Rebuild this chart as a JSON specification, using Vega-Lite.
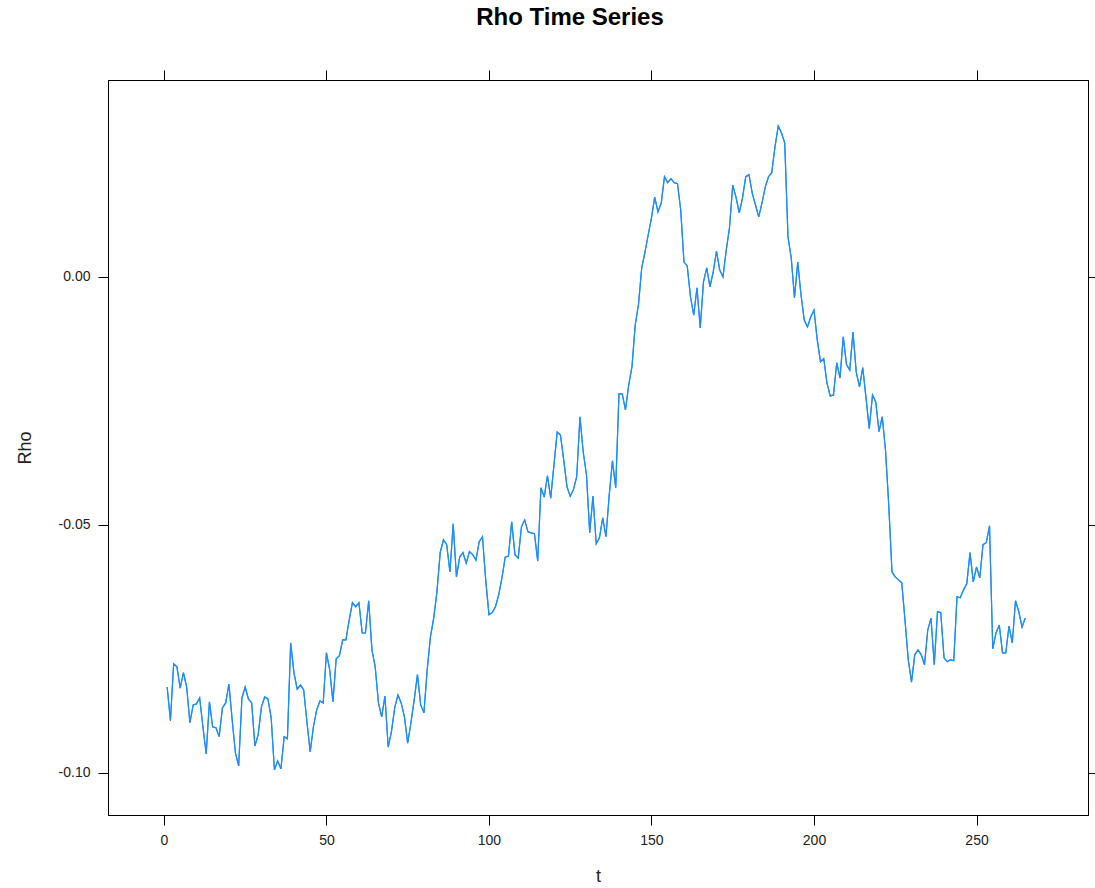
{
  "$schema": "https://vega.github.io/schema/vega-lite/v6.json",
  "width": 980,
  "height": 735,
  "autosize": {"type": "none"},
  "padding": {"left": 108, "top": 80, "right": 7, "bottom": 73},
  "background": "white",
  "config": {
    "font": "Liberation Sans",
    "view": {"stroke": "#000", "strokeWidth": 1},
    "axis": {
      "domainColor": "#000", "tickColor": "#000", "tickSize": 10, "tickWidth": 1,
      "labelFont": "Liberation Sans", "labelFontSize": 14, "labelColor": "#222",
      "titleFont": "Liberation Sans", "titleFontSize": 18, "titleFontWeight": "normal", "titleColor": "#222",
      "grid": false, "labelPadding": 8
    }
  },
  "title": {"text": "Rho Time Series", "fontSize": 24, "fontWeight": "bold", "font": "Liberation Sans", "color": "#000", "offset": 40, "dx": -28},
  "data": {"values": [
    {"t":1,"rho":-0.0827},{"t":2,"rho":-0.0895},{"t":3,"rho":-0.0780},{"t":4,"rho":-0.0786},{"t":5,"rho":-0.0829},
    {"t":6,"rho":-0.0798},{"t":7,"rho":-0.0827},{"t":8,"rho":-0.0899},{"t":9,"rho":-0.0863},{"t":10,"rho":-0.0861},
    {"t":11,"rho":-0.0849},{"t":12,"rho":-0.0907},{"t":13,"rho":-0.0962},{"t":14,"rho":-0.0857},{"t":15,"rho":-0.0907},
    {"t":16,"rho":-0.0909},{"t":17,"rho":-0.0927},{"t":18,"rho":-0.0869},{"t":19,"rho":-0.0859},{"t":20,"rho":-0.0821},
    {"t":21,"rho":-0.0893},{"t":22,"rho":-0.0960},{"t":23,"rho":-0.0986},{"t":24,"rho":-0.0849},{"t":25,"rho":-0.0827},
    {"t":26,"rho":-0.0851},{"t":27,"rho":-0.0859},{"t":28,"rho":-0.0946},{"t":29,"rho":-0.0923},{"t":30,"rho":-0.0867},
    {"t":31,"rho":-0.0847},{"t":32,"rho":-0.0851},{"t":33,"rho":-0.0889},{"t":34,"rho":-0.0994},{"t":35,"rho":-0.0976},
    {"t":36,"rho":-0.0992},{"t":37,"rho":-0.0927},{"t":38,"rho":-0.0931},{"t":39,"rho":-0.0738},{"t":40,"rho":-0.0798},
    {"t":41,"rho":-0.0831},{"t":42,"rho":-0.0823},{"t":43,"rho":-0.0833},{"t":44,"rho":-0.0897},{"t":45,"rho":-0.0958},
    {"t":46,"rho":-0.0907},{"t":47,"rho":-0.0873},{"t":48,"rho":-0.0855},{"t":49,"rho":-0.0859},{"t":50,"rho":-0.0758},
    {"t":51,"rho":-0.0792},{"t":52,"rho":-0.0857},{"t":53,"rho":-0.0770},{"t":54,"rho":-0.0764},{"t":55,"rho":-0.0732},
    {"t":56,"rho":-0.0732},{"t":57,"rho":-0.0692},{"t":58,"rho":-0.0657},{"t":59,"rho":-0.0665},{"t":60,"rho":-0.0657},
    {"t":61,"rho":-0.0718},{"t":62,"rho":-0.0718},{"t":63,"rho":-0.0653},{"t":64,"rho":-0.0752},{"t":65,"rho":-0.0786},
    {"t":66,"rho":-0.0859},{"t":67,"rho":-0.0887},{"t":68,"rho":-0.0845},{"t":69,"rho":-0.0948},{"t":70,"rho":-0.0917},
    {"t":71,"rho":-0.0869},{"t":72,"rho":-0.0843},{"t":73,"rho":-0.0859},{"t":74,"rho":-0.0887},{"t":75,"rho":-0.0940},
    {"t":76,"rho":-0.0899},{"t":77,"rho":-0.0853},{"t":78,"rho":-0.0802},{"t":79,"rho":-0.0863},{"t":80,"rho":-0.0879},
    {"t":81,"rho":-0.0792},{"t":82,"rho":-0.0726},{"t":83,"rho":-0.0688},{"t":84,"rho":-0.0635},{"t":85,"rho":-0.0556},
    {"t":86,"rho":-0.0530},{"t":87,"rho":-0.0540},{"t":88,"rho":-0.0595},{"t":89,"rho":-0.0498},{"t":90,"rho":-0.0605},
    {"t":91,"rho":-0.0565},{"t":92,"rho":-0.0556},{"t":93,"rho":-0.0577},{"t":94,"rho":-0.0554},{"t":95,"rho":-0.0560},
    {"t":96,"rho":-0.0571},{"t":97,"rho":-0.0534},{"t":98,"rho":-0.0524},{"t":99,"rho":-0.0611},{"t":100,"rho":-0.0681},
    {"t":101,"rho":-0.0677},{"t":102,"rho":-0.0665},{"t":103,"rho":-0.0641},{"t":104,"rho":-0.0607},{"t":105,"rho":-0.0565},
    {"t":106,"rho":-0.0563},{"t":107,"rho":-0.0494},{"t":108,"rho":-0.0560},{"t":109,"rho":-0.0567},{"t":110,"rho":-0.0504},
    {"t":111,"rho":-0.0490},{"t":112,"rho":-0.0514},{"t":113,"rho":-0.0516},{"t":114,"rho":-0.0518},{"t":115,"rho":-0.0573},
    {"t":116,"rho":-0.0425},{"t":117,"rho":-0.0444},{"t":118,"rho":-0.0401},{"t":119,"rho":-0.0446},{"t":120,"rho":-0.0379},
    {"t":121,"rho":-0.0313},{"t":122,"rho":-0.0319},{"t":123,"rho":-0.0369},{"t":124,"rho":-0.0423},{"t":125,"rho":-0.0442},
    {"t":126,"rho":-0.0429},{"t":127,"rho":-0.0403},{"t":128,"rho":-0.0282},{"t":129,"rho":-0.0353},{"t":130,"rho":-0.0399},
    {"t":131,"rho":-0.0516},{"t":132,"rho":-0.0442},{"t":133,"rho":-0.0538},{"t":134,"rho":-0.0526},{"t":135,"rho":-0.0486},
    {"t":136,"rho":-0.0524},{"t":137,"rho":-0.0440},{"t":138,"rho":-0.0371},{"t":139,"rho":-0.0425},{"t":140,"rho":-0.0236},
    {"t":141,"rho":-0.0236},{"t":142,"rho":-0.0268},{"t":143,"rho":-0.0218},{"t":144,"rho":-0.0181},{"t":145,"rho":-0.0097},
    {"t":146,"rho":-0.0056},{"t":147,"rho":0.0018},{"t":148,"rho":0.0050},{"t":149,"rho":0.0085},{"t":150,"rho":0.0119},
    {"t":151,"rho":0.0161},{"t":152,"rho":0.0131},{"t":153,"rho":0.0149},{"t":154,"rho":0.0202},{"t":155,"rho":0.0190},
    {"t":156,"rho":0.0198},{"t":157,"rho":0.0190},{"t":158,"rho":0.0188},{"t":159,"rho":0.0135},{"t":160,"rho":0.0030},
    {"t":161,"rho":0.0022},{"t":162,"rho":-0.0040},{"t":163,"rho":-0.0077},{"t":164,"rho":-0.0022},{"t":165,"rho":-0.0103},
    {"t":166,"rho":-0.0010},{"t":167,"rho":0.0018},{"t":168,"rho":-0.0020},{"t":169,"rho":0.0010},{"t":170,"rho":0.0052},
    {"t":171,"rho":0.0014},{"t":172,"rho":0.0000},{"t":173,"rho":0.0054},{"t":174,"rho":0.0099},{"t":175,"rho":0.0185},
    {"t":176,"rho":0.0161},{"t":177,"rho":0.0129},{"t":178,"rho":0.0159},{"t":179,"rho":0.0202},{"t":180,"rho":0.0206},
    {"t":181,"rho":0.0169},{"t":182,"rho":0.0145},{"t":183,"rho":0.0121},{"t":184,"rho":0.0149},{"t":185,"rho":0.0181},
    {"t":186,"rho":0.0202},{"t":187,"rho":0.0210},{"t":188,"rho":0.0262},{"t":189,"rho":0.0304},{"t":190,"rho":0.0290},
    {"t":191,"rho":0.0270},{"t":192,"rho":0.0081},{"t":193,"rho":0.0038},{"t":194,"rho":-0.0042},{"t":195,"rho":0.0030},
    {"t":196,"rho":-0.0036},{"t":197,"rho":-0.0087},{"t":198,"rho":-0.0101},{"t":199,"rho":-0.0081},{"t":200,"rho":-0.0067},
    {"t":201,"rho":-0.0127},{"t":202,"rho":-0.0171},{"t":203,"rho":-0.0165},{"t":204,"rho":-0.0214},{"t":205,"rho":-0.0240},
    {"t":206,"rho":-0.0238},{"t":207,"rho":-0.0173},{"t":208,"rho":-0.0204},{"t":209,"rho":-0.0121},{"t":210,"rho":-0.0177},
    {"t":211,"rho":-0.0188},{"t":212,"rho":-0.0111},{"t":213,"rho":-0.0192},{"t":214,"rho":-0.0222},{"t":215,"rho":-0.0183},
    {"t":216,"rho":-0.0244},{"t":217,"rho":-0.0306},{"t":218,"rho":-0.0238},{"t":219,"rho":-0.0252},{"t":220,"rho":-0.0312},
    {"t":221,"rho":-0.0282},{"t":222,"rho":-0.0349},{"t":223,"rho":-0.0460},{"t":224,"rho":-0.0595},{"t":225,"rho":-0.0605},
    {"t":226,"rho":-0.0611},{"t":227,"rho":-0.0617},{"t":228,"rho":-0.0692},{"t":229,"rho":-0.0772},{"t":230,"rho":-0.0817},
    {"t":231,"rho":-0.0762},{"t":232,"rho":-0.0752},{"t":233,"rho":-0.0762},{"t":234,"rho":-0.0782},{"t":235,"rho":-0.0712},
    {"t":236,"rho":-0.0688},{"t":237,"rho":-0.0782},{"t":238,"rho":-0.0675},{"t":239,"rho":-0.0677},{"t":240,"rho":-0.0768},
    {"t":241,"rho":-0.0776},{"t":242,"rho":-0.0772},{"t":243,"rho":-0.0774},{"t":244,"rho":-0.0645},{"t":245,"rho":-0.0647},
    {"t":246,"rho":-0.0631},{"t":247,"rho":-0.0619},{"t":248,"rho":-0.0556},{"t":249,"rho":-0.0615},{"t":250,"rho":-0.0585},
    {"t":251,"rho":-0.0607},{"t":252,"rho":-0.0540},{"t":253,"rho":-0.0536},{"t":254,"rho":-0.0502},{"t":255,"rho":-0.0750},
    {"t":256,"rho":-0.0718},{"t":257,"rho":-0.0702},{"t":258,"rho":-0.0758},{"t":259,"rho":-0.0758},{"t":260,"rho":-0.0704},
    {"t":261,"rho":-0.0738},{"t":262,"rho":-0.0653},{"t":263,"rho":-0.0675},{"t":264,"rho":-0.0706},{"t":265,"rho":-0.0688}
  ]},
  "layer": [
    {
      "mark": {"type": "line", "color": "#1E8CFF", "strokeWidth": 1.2, "clip": true},
      "encoding": {
        "x": {"field": "t", "type": "quantitative",
              "scale": {"domain": [-17.2, 284.3], "nice": false, "zero": false},
              "axis": {"orient": "bottom", "values": [0, 50, 100, 150, 200, 250], "title": "t", "titlePadding": 20}},
        "y": {"field": "rho", "type": "quantitative",
              "scale": {"domain": [-0.1085, 0.0397], "nice": false, "zero": false},
              "axis": {"orient": "left", "values": [-0.1, -0.05, 0], "title": "Rho", "titlePadding": 24,
                       "labelExpr": "replace(format(datum.value, '.2f'), '\u2212', '-')"}}
      }
    },
    {
      "mark": {"type": "line", "color": "#1E8CFF", "strokeWidth": 1.2, "clip": true},
      "encoding": {
        "x": {"field": "t", "type": "quantitative",
              "axis": {"orient": "top", "values": [0, 50, 100, 150, 200, 250], "labels": false, "title": null}},
        "y": {"field": "rho", "type": "quantitative",
              "axis": {"orient": "right", "values": [-0.1, -0.05, 0], "labels": false, "title": null}}
      }
    }
  ],
  "resolve": {"axis": {"x": "independent", "y": "independent"}}
}
